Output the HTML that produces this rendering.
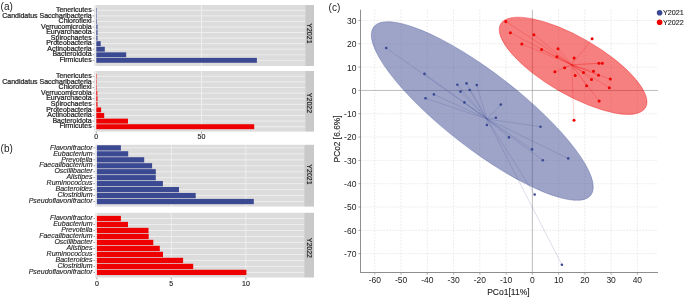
<!DOCTYPE html>
<html><head><meta charset="utf-8"><style>
html,body{margin:0;padding:0;background:#fff;}
body{width:685px;height:297px;overflow:hidden;}
svg{display:block;font-family:"Liberation Sans", sans-serif;will-change:transform;}
</style></head><body>
<svg width="685" height="297" viewBox="0 0 685 297">
<rect width="685" height="297" fill="#fff"/>
<text x="0.60" y="9.90" font-size="10" text-anchor="start" fill="#222" >(a)</text>
<rect x="94.2" y="5.0" width="211.0" height="61.0" fill="#DCDCDC"/>
<line x1="94.2" x2="305.2" y1="10.30" y2="10.30" stroke="#EFEFEF" stroke-width="0.9"/>
<line x1="94.2" x2="305.2" y1="15.86" y2="15.86" stroke="#EFEFEF" stroke-width="0.9"/>
<line x1="94.2" x2="305.2" y1="21.42" y2="21.42" stroke="#EFEFEF" stroke-width="0.9"/>
<line x1="94.2" x2="305.2" y1="26.98" y2="26.98" stroke="#EFEFEF" stroke-width="0.9"/>
<line x1="94.2" x2="305.2" y1="32.54" y2="32.54" stroke="#EFEFEF" stroke-width="0.9"/>
<line x1="94.2" x2="305.2" y1="38.10" y2="38.10" stroke="#EFEFEF" stroke-width="0.9"/>
<line x1="94.2" x2="305.2" y1="43.66" y2="43.66" stroke="#EFEFEF" stroke-width="0.9"/>
<line x1="94.2" x2="305.2" y1="49.22" y2="49.22" stroke="#EFEFEF" stroke-width="0.9"/>
<line x1="94.2" x2="305.2" y1="54.78" y2="54.78" stroke="#EFEFEF" stroke-width="0.9"/>
<line x1="94.2" x2="305.2" y1="60.34" y2="60.34" stroke="#EFEFEF" stroke-width="0.9"/>
<rect x="94.5" y="5.0" width="1.80" height="61.0" fill="#EEEEEE"/>
<line x1="201.5" x2="201.5" y1="5.0" y2="66.0" stroke="#EFEFEF" stroke-width="0.9"/>
<rect x="96.3" y="7.85" width="0.50" height="4.89" fill="#3B4992"/>
<line x1="92.60000000000001" x2="94.2" y1="10.30" y2="10.30" stroke="#666" stroke-width="0.6"/>
<text x="91.70" y="12.00" font-size="7" text-anchor="end" fill="#1e1e1e"  stroke="#1e1e1e" stroke-width="0.22">Tenericutes</text>
<rect x="96.3" y="13.41" width="0.50" height="4.89" fill="#3B4992"/>
<line x1="92.60000000000001" x2="94.2" y1="15.86" y2="15.86" stroke="#666" stroke-width="0.6"/>
<text x="91.70" y="17.56" font-size="7" text-anchor="end" fill="#1e1e1e"  stroke="#1e1e1e" stroke-width="0.22">Candidatus Saccharibacteria</text>
<rect x="96.3" y="18.97" width="0.60" height="4.89" fill="#3B4992"/>
<line x1="92.60000000000001" x2="94.2" y1="21.42" y2="21.42" stroke="#666" stroke-width="0.6"/>
<text x="91.70" y="23.12" font-size="7" text-anchor="end" fill="#1e1e1e"  stroke="#1e1e1e" stroke-width="0.22">Chloroflexi</text>
<rect x="96.3" y="24.53" width="1.20" height="4.89" fill="#3B4992"/>
<line x1="92.60000000000001" x2="94.2" y1="26.98" y2="26.98" stroke="#666" stroke-width="0.6"/>
<text x="91.70" y="28.68" font-size="7" text-anchor="end" fill="#1e1e1e"  stroke="#1e1e1e" stroke-width="0.22">Verrucomicrobia</text>
<rect x="96.3" y="30.09" width="1.20" height="4.89" fill="#3B4992"/>
<line x1="92.60000000000001" x2="94.2" y1="32.54" y2="32.54" stroke="#666" stroke-width="0.6"/>
<text x="91.70" y="34.24" font-size="7" text-anchor="end" fill="#1e1e1e"  stroke="#1e1e1e" stroke-width="0.22">Euryarchaeota</text>
<rect x="96.3" y="35.65" width="1.20" height="4.89" fill="#3B4992"/>
<line x1="92.60000000000001" x2="94.2" y1="38.10" y2="38.10" stroke="#666" stroke-width="0.6"/>
<text x="91.70" y="39.80" font-size="7" text-anchor="end" fill="#1e1e1e"  stroke="#1e1e1e" stroke-width="0.22">Spirochaetes</text>
<rect x="96.3" y="41.21" width="4.40" height="4.89" fill="#3B4992"/>
<line x1="92.60000000000001" x2="94.2" y1="43.66" y2="43.66" stroke="#666" stroke-width="0.6"/>
<text x="91.70" y="45.36" font-size="7" text-anchor="end" fill="#1e1e1e"  stroke="#1e1e1e" stroke-width="0.22">Proteobacteria</text>
<rect x="96.3" y="46.77" width="8.50" height="4.89" fill="#3B4992"/>
<line x1="92.60000000000001" x2="94.2" y1="49.22" y2="49.22" stroke="#666" stroke-width="0.6"/>
<text x="91.70" y="50.92" font-size="7" text-anchor="end" fill="#1e1e1e"  stroke="#1e1e1e" stroke-width="0.22">Actinobacteria</text>
<rect x="96.3" y="52.33" width="29.90" height="4.89" fill="#3B4992"/>
<line x1="92.60000000000001" x2="94.2" y1="54.78" y2="54.78" stroke="#666" stroke-width="0.6"/>
<text x="91.70" y="56.48" font-size="7" text-anchor="end" fill="#1e1e1e"  stroke="#1e1e1e" stroke-width="0.22">Bacteroidota</text>
<rect x="96.3" y="57.89" width="160.60" height="4.89" fill="#3B4992"/>
<line x1="92.60000000000001" x2="94.2" y1="60.34" y2="60.34" stroke="#666" stroke-width="0.6"/>
<text x="91.70" y="62.04" font-size="7" text-anchor="end" fill="#1e1e1e"  stroke="#1e1e1e" stroke-width="0.22">Firmicutes</text>
<rect x="305.2" y="5.0" width="8.800000000000011" height="61.0" fill="#C9C9C9"/>
<text x="309.70" y="33.45" font-size="7" text-anchor="middle" fill="#1a1a1a" stroke="#1a1a1a" stroke-width="0.15" transform="rotate(90 309.70 33.45)" dy="2.5">Y2021</text>
<rect x="94.2" y="71.0" width="211.0" height="60.599999999999994" fill="#DCDCDC"/>
<line x1="94.2" x2="305.2" y1="76.30" y2="76.30" stroke="#EFEFEF" stroke-width="0.9"/>
<line x1="94.2" x2="305.2" y1="81.90" y2="81.90" stroke="#EFEFEF" stroke-width="0.9"/>
<line x1="94.2" x2="305.2" y1="87.50" y2="87.50" stroke="#EFEFEF" stroke-width="0.9"/>
<line x1="94.2" x2="305.2" y1="93.10" y2="93.10" stroke="#EFEFEF" stroke-width="0.9"/>
<line x1="94.2" x2="305.2" y1="98.70" y2="98.70" stroke="#EFEFEF" stroke-width="0.9"/>
<line x1="94.2" x2="305.2" y1="104.30" y2="104.30" stroke="#EFEFEF" stroke-width="0.9"/>
<line x1="94.2" x2="305.2" y1="109.90" y2="109.90" stroke="#EFEFEF" stroke-width="0.9"/>
<line x1="94.2" x2="305.2" y1="115.50" y2="115.50" stroke="#EFEFEF" stroke-width="0.9"/>
<line x1="94.2" x2="305.2" y1="121.10" y2="121.10" stroke="#EFEFEF" stroke-width="0.9"/>
<line x1="94.2" x2="305.2" y1="126.70" y2="126.70" stroke="#EFEFEF" stroke-width="0.9"/>
<rect x="94.5" y="71.0" width="1.80" height="60.599999999999994" fill="#EEEEEE"/>
<line x1="201.5" x2="201.5" y1="71.0" y2="131.6" stroke="#EFEFEF" stroke-width="0.9"/>
<rect x="96.3" y="73.84" width="0.45" height="4.93" fill="#EE0000"/>
<line x1="92.60000000000001" x2="94.2" y1="76.30" y2="76.30" stroke="#666" stroke-width="0.6"/>
<text x="91.70" y="78.00" font-size="7" text-anchor="end" fill="#1e1e1e"  stroke="#1e1e1e" stroke-width="0.22">Tenericutes</text>
<rect x="96.3" y="79.44" width="0.45" height="4.93" fill="#EE0000"/>
<line x1="92.60000000000001" x2="94.2" y1="81.90" y2="81.90" stroke="#666" stroke-width="0.6"/>
<text x="91.70" y="83.60" font-size="7" text-anchor="end" fill="#1e1e1e"  stroke="#1e1e1e" stroke-width="0.22">Candidatus Saccharibacteria</text>
<rect x="96.3" y="85.04" width="0.50" height="4.93" fill="#EE0000"/>
<line x1="92.60000000000001" x2="94.2" y1="87.50" y2="87.50" stroke="#666" stroke-width="0.6"/>
<text x="91.70" y="89.20" font-size="7" text-anchor="end" fill="#1e1e1e"  stroke="#1e1e1e" stroke-width="0.22">Chloroflexi</text>
<rect x="96.3" y="90.64" width="1.00" height="4.93" fill="#EE0000"/>
<line x1="92.60000000000001" x2="94.2" y1="93.10" y2="93.10" stroke="#666" stroke-width="0.6"/>
<text x="91.70" y="94.80" font-size="7" text-anchor="end" fill="#1e1e1e"  stroke="#1e1e1e" stroke-width="0.22">Verrucomicrobia</text>
<rect x="96.3" y="96.24" width="1.20" height="4.93" fill="#EE0000"/>
<line x1="92.60000000000001" x2="94.2" y1="98.70" y2="98.70" stroke="#666" stroke-width="0.6"/>
<text x="91.70" y="100.40" font-size="7" text-anchor="end" fill="#1e1e1e"  stroke="#1e1e1e" stroke-width="0.22">Euryarchaeota</text>
<rect x="96.3" y="101.84" width="1.20" height="4.93" fill="#EE0000"/>
<line x1="92.60000000000001" x2="94.2" y1="104.30" y2="104.30" stroke="#666" stroke-width="0.6"/>
<text x="91.70" y="106.00" font-size="7" text-anchor="end" fill="#1e1e1e"  stroke="#1e1e1e" stroke-width="0.22">Spirochaetes</text>
<rect x="96.3" y="107.44" width="4.80" height="4.93" fill="#EE0000"/>
<line x1="92.60000000000001" x2="94.2" y1="109.90" y2="109.90" stroke="#666" stroke-width="0.6"/>
<text x="91.70" y="111.60" font-size="7" text-anchor="end" fill="#1e1e1e"  stroke="#1e1e1e" stroke-width="0.22">Proteobacteria</text>
<rect x="96.3" y="113.04" width="7.90" height="4.93" fill="#EE0000"/>
<line x1="92.60000000000001" x2="94.2" y1="115.50" y2="115.50" stroke="#666" stroke-width="0.6"/>
<text x="91.70" y="117.20" font-size="7" text-anchor="end" fill="#1e1e1e"  stroke="#1e1e1e" stroke-width="0.22">Actinobacteria</text>
<rect x="96.3" y="118.64" width="31.70" height="4.93" fill="#EE0000"/>
<line x1="92.60000000000001" x2="94.2" y1="121.10" y2="121.10" stroke="#666" stroke-width="0.6"/>
<text x="91.70" y="122.80" font-size="7" text-anchor="end" fill="#1e1e1e"  stroke="#1e1e1e" stroke-width="0.22">Bacteroidota</text>
<rect x="96.3" y="124.24" width="157.90" height="4.93" fill="#EE0000"/>
<line x1="92.60000000000001" x2="94.2" y1="126.70" y2="126.70" stroke="#666" stroke-width="0.6"/>
<text x="91.70" y="128.40" font-size="7" text-anchor="end" fill="#1e1e1e"  stroke="#1e1e1e" stroke-width="0.22">Firmicutes</text>
<rect x="305.2" y="71.0" width="8.800000000000011" height="60.599999999999994" fill="#C9C9C9"/>
<text x="309.70" y="103.00" font-size="7" text-anchor="middle" fill="#1a1a1a" stroke="#1a1a1a" stroke-width="0.15" transform="rotate(90 309.70 103.00)" dy="2.5">Y2022</text>
<line x1="96.3" x2="96.3" y1="131.6" y2="133.6" stroke="#666" stroke-width="0.6"/>
<text x="96.30" y="139.30" font-size="7" text-anchor="middle" fill="#1e1e1e" stroke="#1e1e1e" stroke-width="0.15">0</text>
<line x1="201.5" x2="201.5" y1="131.6" y2="133.6" stroke="#666" stroke-width="0.6"/>
<text x="201.50" y="139.30" font-size="7" text-anchor="middle" fill="#1e1e1e" stroke="#1e1e1e" stroke-width="0.15">50</text>
<text x="0.60" y="151.60" font-size="10" text-anchor="start" fill="#222" >(b)</text>
<rect x="95.0" y="144.8" width="209.2" height="61.79999999999998" fill="#DCDCDC"/>
<line x1="95.0" x2="304.2" y1="147.90" y2="147.90" stroke="#EFEFEF" stroke-width="0.9"/>
<line x1="95.0" x2="304.2" y1="153.86" y2="153.86" stroke="#EFEFEF" stroke-width="0.9"/>
<line x1="95.0" x2="304.2" y1="159.82" y2="159.82" stroke="#EFEFEF" stroke-width="0.9"/>
<line x1="95.0" x2="304.2" y1="165.78" y2="165.78" stroke="#EFEFEF" stroke-width="0.9"/>
<line x1="95.0" x2="304.2" y1="171.74" y2="171.74" stroke="#EFEFEF" stroke-width="0.9"/>
<line x1="95.0" x2="304.2" y1="177.70" y2="177.70" stroke="#EFEFEF" stroke-width="0.9"/>
<line x1="95.0" x2="304.2" y1="183.66" y2="183.66" stroke="#EFEFEF" stroke-width="0.9"/>
<line x1="95.0" x2="304.2" y1="189.62" y2="189.62" stroke="#EFEFEF" stroke-width="0.9"/>
<line x1="95.0" x2="304.2" y1="195.58" y2="195.58" stroke="#EFEFEF" stroke-width="0.9"/>
<line x1="95.0" x2="304.2" y1="201.54" y2="201.54" stroke="#EFEFEF" stroke-width="0.9"/>
<rect x="95.3" y="144.8" width="1.60" height="61.79999999999998" fill="#EEEEEE"/>
<line x1="171.3" x2="171.3" y1="144.8" y2="206.6" stroke="#EFEFEF" stroke-width="0.9"/>
<line x1="245.9" x2="245.9" y1="144.8" y2="206.6" stroke="#EFEFEF" stroke-width="0.9"/>
<rect x="96.9" y="145.28" width="24.00" height="5.24" fill="#3B4992"/>
<line x1="93.4" x2="95.0" y1="147.90" y2="147.90" stroke="#666" stroke-width="0.6"/>
<text x="92.50" y="149.60" font-size="7" text-anchor="end" fill="#1e1e1e" font-style="italic" stroke="#1e1e1e" stroke-width="0.13">Flavonifractor</text>
<rect x="96.9" y="151.24" width="31.30" height="5.24" fill="#3B4992"/>
<line x1="93.4" x2="95.0" y1="153.86" y2="153.86" stroke="#666" stroke-width="0.6"/>
<text x="92.50" y="155.56" font-size="7" text-anchor="end" fill="#1e1e1e" font-style="italic" stroke="#1e1e1e" stroke-width="0.13">Eubacterium</text>
<rect x="96.9" y="157.20" width="47.30" height="5.24" fill="#3B4992"/>
<line x1="93.4" x2="95.0" y1="159.82" y2="159.82" stroke="#666" stroke-width="0.6"/>
<text x="92.50" y="161.52" font-size="7" text-anchor="end" fill="#1e1e1e" font-style="italic" stroke="#1e1e1e" stroke-width="0.13">Prevotella</text>
<rect x="96.9" y="163.16" width="55.20" height="5.24" fill="#3B4992"/>
<line x1="93.4" x2="95.0" y1="165.78" y2="165.78" stroke="#666" stroke-width="0.6"/>
<text x="92.50" y="167.48" font-size="7" text-anchor="end" fill="#1e1e1e" font-style="italic" stroke="#1e1e1e" stroke-width="0.13">Faecalibacterium</text>
<rect x="96.9" y="169.12" width="58.90" height="5.24" fill="#3B4992"/>
<line x1="93.4" x2="95.0" y1="171.74" y2="171.74" stroke="#666" stroke-width="0.6"/>
<text x="92.50" y="173.44" font-size="7" text-anchor="end" fill="#1e1e1e" font-style="italic" stroke="#1e1e1e" stroke-width="0.13">Oscillibacter</text>
<rect x="96.9" y="175.08" width="58.90" height="5.24" fill="#3B4992"/>
<line x1="93.4" x2="95.0" y1="177.70" y2="177.70" stroke="#666" stroke-width="0.6"/>
<text x="92.50" y="179.40" font-size="7" text-anchor="end" fill="#1e1e1e" font-style="italic" stroke="#1e1e1e" stroke-width="0.13">Alistipes</text>
<rect x="96.9" y="181.04" width="66.00" height="5.24" fill="#3B4992"/>
<line x1="93.4" x2="95.0" y1="183.66" y2="183.66" stroke="#666" stroke-width="0.6"/>
<text x="92.50" y="185.36" font-size="7" text-anchor="end" fill="#1e1e1e" font-style="italic" stroke="#1e1e1e" stroke-width="0.13">Ruminococcus</text>
<rect x="96.9" y="187.00" width="82.10" height="5.24" fill="#3B4992"/>
<line x1="93.4" x2="95.0" y1="189.62" y2="189.62" stroke="#666" stroke-width="0.6"/>
<text x="92.50" y="191.32" font-size="7" text-anchor="end" fill="#1e1e1e" font-style="italic" stroke="#1e1e1e" stroke-width="0.13">Bacteroides</text>
<rect x="96.9" y="192.96" width="98.80" height="5.24" fill="#3B4992"/>
<line x1="93.4" x2="95.0" y1="195.58" y2="195.58" stroke="#666" stroke-width="0.6"/>
<text x="92.50" y="197.28" font-size="7" text-anchor="end" fill="#1e1e1e" font-style="italic" stroke="#1e1e1e" stroke-width="0.13">Clostridium</text>
<rect x="96.9" y="198.92" width="156.90" height="5.24" fill="#3B4992"/>
<line x1="93.4" x2="95.0" y1="201.54" y2="201.54" stroke="#666" stroke-width="0.6"/>
<text x="92.50" y="203.24" font-size="7" text-anchor="end" fill="#1e1e1e" font-style="italic" stroke="#1e1e1e" stroke-width="0.13">Pseudoflavonifractor</text>
<rect x="304.2" y="144.8" width="9.800000000000011" height="61.79999999999998" fill="#C9C9C9"/>
<text x="309.20" y="174.50" font-size="7" text-anchor="middle" fill="#1a1a1a" stroke="#1a1a1a" stroke-width="0.15" transform="rotate(90 309.20 174.50)" dy="2.5">Y2021</text>
<rect x="95.0" y="212.8" width="209.2" height="64.69999999999999" fill="#DCDCDC"/>
<line x1="95.0" x2="304.2" y1="218.50" y2="218.50" stroke="#EFEFEF" stroke-width="0.9"/>
<line x1="95.0" x2="304.2" y1="224.49" y2="224.49" stroke="#EFEFEF" stroke-width="0.9"/>
<line x1="95.0" x2="304.2" y1="230.48" y2="230.48" stroke="#EFEFEF" stroke-width="0.9"/>
<line x1="95.0" x2="304.2" y1="236.47" y2="236.47" stroke="#EFEFEF" stroke-width="0.9"/>
<line x1="95.0" x2="304.2" y1="242.46" y2="242.46" stroke="#EFEFEF" stroke-width="0.9"/>
<line x1="95.0" x2="304.2" y1="248.45" y2="248.45" stroke="#EFEFEF" stroke-width="0.9"/>
<line x1="95.0" x2="304.2" y1="254.44" y2="254.44" stroke="#EFEFEF" stroke-width="0.9"/>
<line x1="95.0" x2="304.2" y1="260.43" y2="260.43" stroke="#EFEFEF" stroke-width="0.9"/>
<line x1="95.0" x2="304.2" y1="266.42" y2="266.42" stroke="#EFEFEF" stroke-width="0.9"/>
<line x1="95.0" x2="304.2" y1="272.41" y2="272.41" stroke="#EFEFEF" stroke-width="0.9"/>
<rect x="95.3" y="212.8" width="1.60" height="64.69999999999999" fill="#EEEEEE"/>
<line x1="171.3" x2="171.3" y1="212.8" y2="277.5" stroke="#EFEFEF" stroke-width="0.9"/>
<line x1="245.9" x2="245.9" y1="212.8" y2="277.5" stroke="#EFEFEF" stroke-width="0.9"/>
<rect x="96.9" y="215.86" width="24.00" height="5.27" fill="#EE0000"/>
<line x1="93.4" x2="95.0" y1="218.50" y2="218.50" stroke="#666" stroke-width="0.6"/>
<text x="92.50" y="220.20" font-size="7" text-anchor="end" fill="#1e1e1e" font-style="italic" stroke="#1e1e1e" stroke-width="0.13">Flavonifractor</text>
<rect x="96.9" y="221.85" width="31.10" height="5.27" fill="#EE0000"/>
<line x1="93.4" x2="95.0" y1="224.49" y2="224.49" stroke="#666" stroke-width="0.6"/>
<text x="92.50" y="226.19" font-size="7" text-anchor="end" fill="#1e1e1e" font-style="italic" stroke="#1e1e1e" stroke-width="0.13">Eubacterium</text>
<rect x="96.9" y="227.84" width="51.60" height="5.27" fill="#EE0000"/>
<line x1="93.4" x2="95.0" y1="230.48" y2="230.48" stroke="#666" stroke-width="0.6"/>
<text x="92.50" y="232.18" font-size="7" text-anchor="end" fill="#1e1e1e" font-style="italic" stroke="#1e1e1e" stroke-width="0.13">Prevotella</text>
<rect x="96.9" y="233.83" width="51.80" height="5.27" fill="#EE0000"/>
<line x1="93.4" x2="95.0" y1="236.47" y2="236.47" stroke="#666" stroke-width="0.6"/>
<text x="92.50" y="238.17" font-size="7" text-anchor="end" fill="#1e1e1e" font-style="italic" stroke="#1e1e1e" stroke-width="0.13">Faecalibacterium</text>
<rect x="96.9" y="239.82" width="56.40" height="5.27" fill="#EE0000"/>
<line x1="93.4" x2="95.0" y1="242.46" y2="242.46" stroke="#666" stroke-width="0.6"/>
<text x="92.50" y="244.16" font-size="7" text-anchor="end" fill="#1e1e1e" font-style="italic" stroke="#1e1e1e" stroke-width="0.13">Oscillibacter</text>
<rect x="96.9" y="245.81" width="62.90" height="5.27" fill="#EE0000"/>
<line x1="93.4" x2="95.0" y1="248.45" y2="248.45" stroke="#666" stroke-width="0.6"/>
<text x="92.50" y="250.15" font-size="7" text-anchor="end" fill="#1e1e1e" font-style="italic" stroke="#1e1e1e" stroke-width="0.13">Alistipes</text>
<rect x="96.9" y="251.80" width="66.10" height="5.27" fill="#EE0000"/>
<line x1="93.4" x2="95.0" y1="254.44" y2="254.44" stroke="#666" stroke-width="0.6"/>
<text x="92.50" y="256.14" font-size="7" text-anchor="end" fill="#1e1e1e" font-style="italic" stroke="#1e1e1e" stroke-width="0.13">Ruminococcus</text>
<rect x="96.9" y="257.79" width="86.20" height="5.27" fill="#EE0000"/>
<line x1="93.4" x2="95.0" y1="260.43" y2="260.43" stroke="#666" stroke-width="0.6"/>
<text x="92.50" y="262.13" font-size="7" text-anchor="end" fill="#1e1e1e" font-style="italic" stroke="#1e1e1e" stroke-width="0.13">Bacteroides</text>
<rect x="96.9" y="263.78" width="96.30" height="5.27" fill="#EE0000"/>
<line x1="93.4" x2="95.0" y1="266.42" y2="266.42" stroke="#666" stroke-width="0.6"/>
<text x="92.50" y="268.12" font-size="7" text-anchor="end" fill="#1e1e1e" font-style="italic" stroke="#1e1e1e" stroke-width="0.13">Clostridium</text>
<rect x="96.9" y="269.77" width="149.50" height="5.27" fill="#EE0000"/>
<line x1="93.4" x2="95.0" y1="272.41" y2="272.41" stroke="#666" stroke-width="0.6"/>
<text x="92.50" y="274.11" font-size="7" text-anchor="end" fill="#1e1e1e" font-style="italic" stroke="#1e1e1e" stroke-width="0.13">Pseudoflavonifractor</text>
<rect x="304.2" y="212.8" width="9.800000000000011" height="64.69999999999999" fill="#C9C9C9"/>
<text x="309.20" y="247.90" font-size="7" text-anchor="middle" fill="#1a1a1a" stroke="#1a1a1a" stroke-width="0.15" transform="rotate(90 309.20 247.90)" dy="2.5">Y2022</text>
<line x1="96.9" x2="96.9" y1="277.5" y2="279.5" stroke="#666" stroke-width="0.6"/>
<text x="96.90" y="285.90" font-size="7" text-anchor="middle" fill="#1e1e1e" stroke="#1e1e1e" stroke-width="0.15">0</text>
<line x1="171.3" x2="171.3" y1="277.5" y2="279.5" stroke="#666" stroke-width="0.6"/>
<text x="171.30" y="285.90" font-size="7" text-anchor="middle" fill="#1e1e1e" stroke="#1e1e1e" stroke-width="0.15">5</text>
<line x1="245.9" x2="245.9" y1="277.5" y2="279.5" stroke="#666" stroke-width="0.6"/>
<text x="245.90" y="285.90" font-size="7" text-anchor="middle" fill="#1e1e1e" stroke="#1e1e1e" stroke-width="0.15">10</text>
<text x="328.60" y="10.60" font-size="10" text-anchor="start" fill="#222" >(c)</text>
<line x1="374.79" x2="374.79" y1="9.7" y2="272.5" stroke="#DCDCDC" stroke-width="0.6" stroke-dasharray="1.8 1.4"/>
<line x1="401.05" x2="401.05" y1="9.7" y2="272.5" stroke="#DCDCDC" stroke-width="0.6" stroke-dasharray="1.8 1.4"/>
<line x1="427.31" x2="427.31" y1="9.7" y2="272.5" stroke="#DCDCDC" stroke-width="0.6" stroke-dasharray="1.8 1.4"/>
<line x1="453.57" x2="453.57" y1="9.7" y2="272.5" stroke="#DCDCDC" stroke-width="0.6" stroke-dasharray="1.8 1.4"/>
<line x1="479.83" x2="479.83" y1="9.7" y2="272.5" stroke="#DCDCDC" stroke-width="0.6" stroke-dasharray="1.8 1.4"/>
<line x1="506.09" x2="506.09" y1="9.7" y2="272.5" stroke="#DCDCDC" stroke-width="0.6" stroke-dasharray="1.8 1.4"/>
<line x1="558.61" x2="558.61" y1="9.7" y2="272.5" stroke="#DCDCDC" stroke-width="0.6" stroke-dasharray="1.8 1.4"/>
<line x1="584.87" x2="584.87" y1="9.7" y2="272.5" stroke="#DCDCDC" stroke-width="0.6" stroke-dasharray="1.8 1.4"/>
<line x1="611.13" x2="611.13" y1="9.7" y2="272.5" stroke="#DCDCDC" stroke-width="0.6" stroke-dasharray="1.8 1.4"/>
<line x1="637.39" x2="637.39" y1="9.7" y2="272.5" stroke="#DCDCDC" stroke-width="0.6" stroke-dasharray="1.8 1.4"/>
<line x1="360.5" x2="658.0" y1="253.66" y2="253.66" stroke="#DCDCDC" stroke-width="0.6" stroke-dasharray="1.8 1.4"/>
<line x1="360.5" x2="658.0" y1="230.34" y2="230.34" stroke="#DCDCDC" stroke-width="0.6" stroke-dasharray="1.8 1.4"/>
<line x1="360.5" x2="658.0" y1="207.02" y2="207.02" stroke="#DCDCDC" stroke-width="0.6" stroke-dasharray="1.8 1.4"/>
<line x1="360.5" x2="658.0" y1="183.70" y2="183.70" stroke="#DCDCDC" stroke-width="0.6" stroke-dasharray="1.8 1.4"/>
<line x1="360.5" x2="658.0" y1="160.38" y2="160.38" stroke="#DCDCDC" stroke-width="0.6" stroke-dasharray="1.8 1.4"/>
<line x1="360.5" x2="658.0" y1="137.06" y2="137.06" stroke="#DCDCDC" stroke-width="0.6" stroke-dasharray="1.8 1.4"/>
<line x1="360.5" x2="658.0" y1="113.74" y2="113.74" stroke="#DCDCDC" stroke-width="0.6" stroke-dasharray="1.8 1.4"/>
<line x1="360.5" x2="658.0" y1="67.10" y2="67.10" stroke="#DCDCDC" stroke-width="0.6" stroke-dasharray="1.8 1.4"/>
<line x1="360.5" x2="658.0" y1="43.78" y2="43.78" stroke="#DCDCDC" stroke-width="0.6" stroke-dasharray="1.8 1.4"/>
<line x1="360.5" x2="658.0" y1="20.46" y2="20.46" stroke="#DCDCDC" stroke-width="0.6" stroke-dasharray="1.8 1.4"/>
<line x1="532.35" x2="532.35" y1="9.7" y2="272.5" stroke="#A0A0A0" stroke-width="0.7"/>
<line x1="360.5" x2="658.0" y1="90.45" y2="90.45" stroke="#A0A0A0" stroke-width="0.7"/>
<ellipse cx="482.3" cy="111.0" rx="137.4" ry="37.8" transform="rotate(37.8 482.3 111.0)" fill="#3B4992" fill-opacity="0.5" stroke="#3B4992" stroke-opacity="0.5" stroke-width="0.6"/>
<ellipse cx="573.1" cy="65.8" rx="83.7" ry="28.7" transform="rotate(29.97 573.1 65.8)" fill="#EE0000" fill-opacity="0.5" stroke="#EE0000" stroke-opacity="0.5" stroke-width="0.6"/>
<line x1="486.9" y1="118.9" x2="386.2" y2="48.0" stroke="#3B4992" stroke-opacity="0.3" stroke-width="0.6"/>
<line x1="486.9" y1="118.9" x2="424.5" y2="73.9" stroke="#3B4992" stroke-opacity="0.3" stroke-width="0.6"/>
<line x1="486.9" y1="118.9" x2="457.4" y2="84.7" stroke="#3B4992" stroke-opacity="0.3" stroke-width="0.6"/>
<line x1="486.9" y1="118.9" x2="466.5" y2="83.4" stroke="#3B4992" stroke-opacity="0.3" stroke-width="0.6"/>
<line x1="486.9" y1="118.9" x2="476.8" y2="85.1" stroke="#3B4992" stroke-opacity="0.3" stroke-width="0.6"/>
<line x1="486.9" y1="118.9" x2="460.5" y2="91.6" stroke="#3B4992" stroke-opacity="0.3" stroke-width="0.6"/>
<line x1="486.9" y1="118.9" x2="469.7" y2="90.0" stroke="#3B4992" stroke-opacity="0.3" stroke-width="0.6"/>
<line x1="486.9" y1="118.9" x2="433.9" y2="94.4" stroke="#3B4992" stroke-opacity="0.3" stroke-width="0.6"/>
<line x1="486.9" y1="118.9" x2="425.5" y2="98.3" stroke="#3B4992" stroke-opacity="0.3" stroke-width="0.6"/>
<line x1="486.9" y1="118.9" x2="464.4" y2="102.4" stroke="#3B4992" stroke-opacity="0.3" stroke-width="0.6"/>
<line x1="486.9" y1="118.9" x2="500.8" y2="104.6" stroke="#3B4992" stroke-opacity="0.3" stroke-width="0.6"/>
<line x1="486.9" y1="118.9" x2="495.9" y2="117.7" stroke="#3B4992" stroke-opacity="0.3" stroke-width="0.6"/>
<line x1="486.9" y1="118.9" x2="486.9" y2="125.0" stroke="#3B4992" stroke-opacity="0.3" stroke-width="0.6"/>
<line x1="486.9" y1="118.9" x2="540.5" y2="126.7" stroke="#3B4992" stroke-opacity="0.3" stroke-width="0.6"/>
<line x1="486.9" y1="118.9" x2="508.9" y2="137.4" stroke="#3B4992" stroke-opacity="0.3" stroke-width="0.6"/>
<line x1="486.9" y1="118.9" x2="532.0" y2="149.4" stroke="#3B4992" stroke-opacity="0.3" stroke-width="0.6"/>
<line x1="486.9" y1="118.9" x2="542.8" y2="160.2" stroke="#3B4992" stroke-opacity="0.3" stroke-width="0.6"/>
<line x1="486.9" y1="118.9" x2="568.2" y2="158.4" stroke="#3B4992" stroke-opacity="0.3" stroke-width="0.6"/>
<line x1="486.9" y1="118.9" x2="534.7" y2="194.5" stroke="#3B4992" stroke-opacity="0.3" stroke-width="0.6"/>
<line x1="486.9" y1="118.9" x2="561.9" y2="264.8" stroke="#3B4992" stroke-opacity="0.3" stroke-width="0.6"/>
<line x1="571.7" y1="64.8" x2="505.8" y2="21.5" stroke="#EE0000" stroke-opacity="0.3" stroke-width="0.6"/>
<line x1="571.7" y1="64.8" x2="510.4" y2="32.7" stroke="#EE0000" stroke-opacity="0.3" stroke-width="0.6"/>
<line x1="571.7" y1="64.8" x2="521.8" y2="43.9" stroke="#EE0000" stroke-opacity="0.3" stroke-width="0.6"/>
<line x1="571.7" y1="64.8" x2="533.9" y2="34.8" stroke="#EE0000" stroke-opacity="0.3" stroke-width="0.6"/>
<line x1="571.7" y1="64.8" x2="541.6" y2="49.4" stroke="#EE0000" stroke-opacity="0.3" stroke-width="0.6"/>
<line x1="571.7" y1="64.8" x2="558.0" y2="48.8" stroke="#EE0000" stroke-opacity="0.3" stroke-width="0.6"/>
<line x1="571.7" y1="64.8" x2="556.9" y2="56.8" stroke="#EE0000" stroke-opacity="0.3" stroke-width="0.6"/>
<line x1="571.7" y1="64.8" x2="574.1" y2="58.0" stroke="#EE0000" stroke-opacity="0.3" stroke-width="0.6"/>
<line x1="571.7" y1="64.8" x2="592.1" y2="38.8" stroke="#EE0000" stroke-opacity="0.3" stroke-width="0.6"/>
<line x1="571.7" y1="64.8" x2="598.9" y2="63.2" stroke="#EE0000" stroke-opacity="0.3" stroke-width="0.6"/>
<line x1="571.7" y1="64.8" x2="602.3" y2="63.2" stroke="#EE0000" stroke-opacity="0.3" stroke-width="0.6"/>
<line x1="571.7" y1="64.8" x2="564.6" y2="67.7" stroke="#EE0000" stroke-opacity="0.3" stroke-width="0.6"/>
<line x1="571.7" y1="64.8" x2="554.9" y2="71.8" stroke="#EE0000" stroke-opacity="0.3" stroke-width="0.6"/>
<line x1="571.7" y1="64.8" x2="575.2" y2="75.6" stroke="#EE0000" stroke-opacity="0.3" stroke-width="0.6"/>
<line x1="571.7" y1="64.8" x2="583.5" y2="72.6" stroke="#EE0000" stroke-opacity="0.3" stroke-width="0.6"/>
<line x1="571.7" y1="64.8" x2="593.5" y2="71.3" stroke="#EE0000" stroke-opacity="0.3" stroke-width="0.6"/>
<line x1="571.7" y1="64.8" x2="598.5" y2="75.2" stroke="#EE0000" stroke-opacity="0.3" stroke-width="0.6"/>
<line x1="571.7" y1="64.8" x2="591.5" y2="79.5" stroke="#EE0000" stroke-opacity="0.3" stroke-width="0.6"/>
<line x1="571.7" y1="64.8" x2="610.3" y2="79.1" stroke="#EE0000" stroke-opacity="0.3" stroke-width="0.6"/>
<line x1="571.7" y1="64.8" x2="586.6" y2="85.7" stroke="#EE0000" stroke-opacity="0.3" stroke-width="0.6"/>
<line x1="571.7" y1="64.8" x2="609.3" y2="87.7" stroke="#EE0000" stroke-opacity="0.3" stroke-width="0.6"/>
<line x1="571.7" y1="64.8" x2="599.1" y2="101.1" stroke="#EE0000" stroke-opacity="0.3" stroke-width="0.6"/>
<line x1="571.7" y1="64.8" x2="574.0" y2="120.3" stroke="#EE0000" stroke-opacity="0.3" stroke-width="0.6"/>
<circle cx="386.2" cy="48.0" r="1.3" fill="#3B4992"/>
<circle cx="424.5" cy="73.9" r="1.3" fill="#3B4992"/>
<circle cx="457.4" cy="84.7" r="1.3" fill="#3B4992"/>
<circle cx="466.5" cy="83.4" r="1.3" fill="#3B4992"/>
<circle cx="476.8" cy="85.1" r="1.3" fill="#3B4992"/>
<circle cx="460.5" cy="91.6" r="1.3" fill="#3B4992"/>
<circle cx="469.7" cy="90.0" r="1.3" fill="#3B4992"/>
<circle cx="433.9" cy="94.4" r="1.3" fill="#3B4992"/>
<circle cx="425.5" cy="98.3" r="1.3" fill="#3B4992"/>
<circle cx="464.4" cy="102.4" r="1.3" fill="#3B4992"/>
<circle cx="500.8" cy="104.6" r="1.3" fill="#3B4992"/>
<circle cx="495.9" cy="117.7" r="1.3" fill="#3B4992"/>
<circle cx="486.9" cy="125.0" r="1.3" fill="#3B4992"/>
<circle cx="540.5" cy="126.7" r="1.3" fill="#3B4992"/>
<circle cx="508.9" cy="137.4" r="1.3" fill="#3B4992"/>
<circle cx="532.0" cy="149.4" r="1.3" fill="#3B4992"/>
<circle cx="542.8" cy="160.2" r="1.3" fill="#3B4992"/>
<circle cx="568.2" cy="158.4" r="1.3" fill="#3B4992"/>
<circle cx="534.7" cy="194.5" r="1.3" fill="#3B4992"/>
<circle cx="561.9" cy="264.8" r="1.3" fill="#3B4992"/>
<circle cx="505.8" cy="21.5" r="1.5" fill="#EE0000"/>
<circle cx="510.4" cy="32.7" r="1.5" fill="#EE0000"/>
<circle cx="521.8" cy="43.9" r="1.5" fill="#EE0000"/>
<circle cx="533.9" cy="34.8" r="1.5" fill="#EE0000"/>
<circle cx="541.6" cy="49.4" r="1.5" fill="#EE0000"/>
<circle cx="558.0" cy="48.8" r="1.5" fill="#EE0000"/>
<circle cx="556.9" cy="56.8" r="1.5" fill="#EE0000"/>
<circle cx="574.1" cy="58.0" r="1.5" fill="#EE0000"/>
<circle cx="592.1" cy="38.8" r="1.5" fill="#EE0000"/>
<circle cx="598.9" cy="63.2" r="1.5" fill="#EE0000"/>
<circle cx="602.3" cy="63.2" r="1.5" fill="#EE0000"/>
<circle cx="564.6" cy="67.7" r="1.5" fill="#EE0000"/>
<circle cx="554.9" cy="71.8" r="1.5" fill="#EE0000"/>
<circle cx="575.2" cy="75.6" r="1.5" fill="#EE0000"/>
<circle cx="583.5" cy="72.6" r="1.5" fill="#EE0000"/>
<circle cx="593.5" cy="71.3" r="1.5" fill="#EE0000"/>
<circle cx="598.5" cy="75.2" r="1.5" fill="#EE0000"/>
<circle cx="591.5" cy="79.5" r="1.5" fill="#EE0000"/>
<circle cx="610.3" cy="79.1" r="1.5" fill="#EE0000"/>
<circle cx="586.6" cy="85.7" r="1.5" fill="#EE0000"/>
<circle cx="609.3" cy="87.7" r="1.5" fill="#EE0000"/>
<circle cx="599.1" cy="101.1" r="1.5" fill="#EE0000"/>
<circle cx="574.0" cy="120.3" r="1.5" fill="#EE0000"/>
<line x1="360.5" x2="360.5" y1="9.7" y2="273.0" stroke="#8E8E8E" stroke-width="1"/>
<line x1="360.0" x2="658.0" y1="272.5" y2="272.5" stroke="#8E8E8E" stroke-width="1"/>
<line x1="358.3" x2="360.5" y1="253.66" y2="253.66" stroke="#888" stroke-width="0.7"/>
<text x="356.40" y="257.06" font-size="8.5" text-anchor="end" fill="#222" >-70</text>
<line x1="358.3" x2="360.5" y1="230.34" y2="230.34" stroke="#888" stroke-width="0.7"/>
<text x="356.40" y="233.74" font-size="8.5" text-anchor="end" fill="#222" >-60</text>
<line x1="358.3" x2="360.5" y1="207.02" y2="207.02" stroke="#888" stroke-width="0.7"/>
<text x="356.40" y="210.42" font-size="8.5" text-anchor="end" fill="#222" >-50</text>
<line x1="358.3" x2="360.5" y1="183.70" y2="183.70" stroke="#888" stroke-width="0.7"/>
<text x="356.40" y="187.10" font-size="8.5" text-anchor="end" fill="#222" >-40</text>
<line x1="358.3" x2="360.5" y1="160.38" y2="160.38" stroke="#888" stroke-width="0.7"/>
<text x="356.40" y="163.78" font-size="8.5" text-anchor="end" fill="#222" >-30</text>
<line x1="358.3" x2="360.5" y1="137.06" y2="137.06" stroke="#888" stroke-width="0.7"/>
<text x="356.40" y="140.46" font-size="8.5" text-anchor="end" fill="#222" >-20</text>
<line x1="358.3" x2="360.5" y1="113.74" y2="113.74" stroke="#888" stroke-width="0.7"/>
<text x="356.40" y="117.14" font-size="8.5" text-anchor="end" fill="#222" >-10</text>
<line x1="358.3" x2="360.5" y1="90.42" y2="90.42" stroke="#888" stroke-width="0.7"/>
<text x="356.40" y="93.82" font-size="8.5" text-anchor="end" fill="#222" >0</text>
<line x1="358.3" x2="360.5" y1="67.10" y2="67.10" stroke="#888" stroke-width="0.7"/>
<text x="356.40" y="70.50" font-size="8.5" text-anchor="end" fill="#222" >10</text>
<line x1="358.3" x2="360.5" y1="43.78" y2="43.78" stroke="#888" stroke-width="0.7"/>
<text x="356.40" y="47.18" font-size="8.5" text-anchor="end" fill="#222" >20</text>
<line x1="358.3" x2="360.5" y1="20.46" y2="20.46" stroke="#888" stroke-width="0.7"/>
<text x="356.40" y="23.86" font-size="8.5" text-anchor="end" fill="#222" >30</text>
<line x1="374.79" x2="374.79" y1="272.5" y2="274.7" stroke="#888" stroke-width="0.7"/>
<text x="374.79" y="283.20" font-size="8.5" text-anchor="middle" fill="#222" >-60</text>
<line x1="401.05" x2="401.05" y1="272.5" y2="274.7" stroke="#888" stroke-width="0.7"/>
<text x="401.05" y="283.20" font-size="8.5" text-anchor="middle" fill="#222" >-50</text>
<line x1="427.31" x2="427.31" y1="272.5" y2="274.7" stroke="#888" stroke-width="0.7"/>
<text x="427.31" y="283.20" font-size="8.5" text-anchor="middle" fill="#222" >-40</text>
<line x1="453.57" x2="453.57" y1="272.5" y2="274.7" stroke="#888" stroke-width="0.7"/>
<text x="453.57" y="283.20" font-size="8.5" text-anchor="middle" fill="#222" >-30</text>
<line x1="479.83" x2="479.83" y1="272.5" y2="274.7" stroke="#888" stroke-width="0.7"/>
<text x="479.83" y="283.20" font-size="8.5" text-anchor="middle" fill="#222" >-20</text>
<line x1="506.09" x2="506.09" y1="272.5" y2="274.7" stroke="#888" stroke-width="0.7"/>
<text x="506.09" y="283.20" font-size="8.5" text-anchor="middle" fill="#222" >-10</text>
<line x1="532.35" x2="532.35" y1="272.5" y2="274.7" stroke="#888" stroke-width="0.7"/>
<text x="532.35" y="283.20" font-size="8.5" text-anchor="middle" fill="#222" >0</text>
<line x1="558.61" x2="558.61" y1="272.5" y2="274.7" stroke="#888" stroke-width="0.7"/>
<text x="558.61" y="283.20" font-size="8.5" text-anchor="middle" fill="#222" >10</text>
<line x1="584.87" x2="584.87" y1="272.5" y2="274.7" stroke="#888" stroke-width="0.7"/>
<text x="584.87" y="283.20" font-size="8.5" text-anchor="middle" fill="#222" >20</text>
<line x1="611.13" x2="611.13" y1="272.5" y2="274.7" stroke="#888" stroke-width="0.7"/>
<text x="611.13" y="283.20" font-size="8.5" text-anchor="middle" fill="#222" >30</text>
<line x1="637.39" x2="637.39" y1="272.5" y2="274.7" stroke="#888" stroke-width="0.7"/>
<text x="637.39" y="283.20" font-size="8.5" text-anchor="middle" fill="#222" >40</text>
<text x="508.40" y="294.90" font-size="8.5" text-anchor="middle" fill="#222" stroke="#222" stroke-width="0.12">PCo1[11%]</text>
<text x="339.6" y="138.9" font-size="8.4" text-anchor="middle" fill="#222" stroke="#222" stroke-width="0.12" transform="rotate(-90 339.6 138.9)">PCo2 [6.6%]</text>
<circle cx="659.6" cy="12.8" r="2.8" fill="#3B4992"/>
<circle cx="659.6" cy="22.2" r="2.8" fill="#EE0000"/>
<text x="662.90" y="15.40" font-size="7.2" text-anchor="start" fill="#1e1e1e" stroke="#1e1e1e" stroke-width="0.12">Y2021</text>
<text x="662.90" y="24.90" font-size="7.2" text-anchor="start" fill="#1e1e1e" stroke="#1e1e1e" stroke-width="0.12">Y2022</text>
</svg>
</body></html>
